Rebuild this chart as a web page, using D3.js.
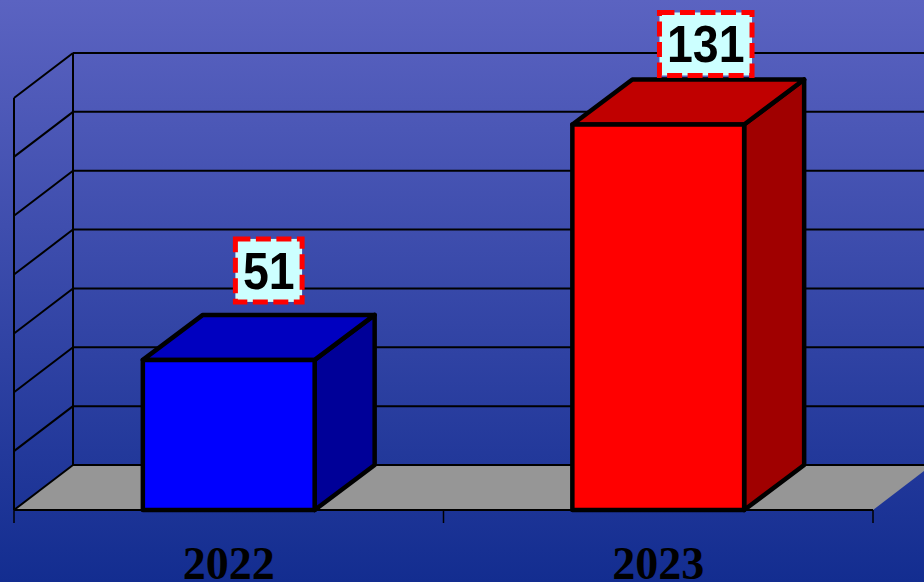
<!DOCTYPE html>
<html>
<head>
<meta charset="utf-8">
<script src="https://cdn.jsdelivr.net/npm/d3@7"></script>
<style>
html, body { margin: 0; padding: 0; background: #15308f; }
svg { display: block; }
</style>
</head>
<body>
<svg></svg>
<script>
const years = ['2022', '2023'];
const totals = [51, 131];
const barFront = ['#0000ff', '#ff0000'];
const barTop = ['#0000c0', '#c00000'];
const barSide = ['#000098', '#a00000'];
const gridTicks = [0, 20, 40, 60, 80, 100, 120, 140];

const width = 924;
const height = 582;
const depthX = 59;
const barDepthX = 60;
const depthY = 45;

const svg = d3.select('svg').attr('width', width).attr('height', height);

const grad = svg.append('defs').append('linearGradient')
	.attr('id', 'bg').attr('x1', 0).attr('y1', 0).attr('x2', 0).attr('y2', 1);
grad.append('stop').attr('offset', 0).attr('stop-color', '#5b63c1');
grad.append('stop').attr('offset', 1).attr('stop-color', '#132d90');

svg.append('rect').attr('width', width).attr('height', height).attr('fill', 'url(#bg)');

const x = d3.scaleBand().domain(years).range([14, 873]).paddingInner(0.6).paddingOuter(0.3);
const y = d3.scaleLinear().domain([0, 140]).range([510, 98]);

// floor
const xLeft = x.range()[0];
const xRight = x.range()[1];
const path = (pts) => 'M' + pts.map(p => p.join(',')).join('L') + 'Z';

svg.append('path')
	.attr('d', path([[xLeft, y(0)], [xRight, y(0)], [xRight + depthX, y(0) - depthY], [xLeft + depthX, y(0) - depthY]]))
	.attr('fill', '#969696');

// walls
const walls = svg.append('g').attr('fill', 'none').attr('stroke', '#000').attr('stroke-width', 2);
walls.selectAll('.back').data(gridTicks).enter().append('line')
	.attr('x1', xLeft + depthX).attr('x2', xRight + depthX)
	.attr('y1', d => y(d) - depthY).attr('y2', d => y(d) - depthY);
walls.selectAll('.side').data(gridTicks).enter().append('line')
	.attr('x1', xLeft).attr('x2', xLeft + depthX)
	.attr('y1', d => y(d)).attr('y2', d => y(d) - depthY);
walls.append('line').attr('x1', xLeft).attr('x2', xLeft).attr('y1', y(140)).attr('y2', y(0));
walls.append('line').attr('x1', xLeft + depthX).attr('x2', xLeft + depthX).attr('y1', y(140) - depthY).attr('y2', y(0) - depthY);

// axis
walls.append('line').attr('x1', xLeft).attr('x2', xRight).attr('y1', y(0)).attr('y2', y(0));
const boundaries = [xLeft, (xLeft + xRight) / 2, xRight];
svg.append('g').selectAll('line').data(boundaries).enter().append('line')
	.attr('x1', d => d).attr('x2', d => d)
	.attr('y1', y(0)).attr('y2', y(0) + 13)
	.attr('stroke', '#000').attr('stroke-width', 1.5);

const axis = svg.append('g').attr('transform', `translate(0,${y(0)})`)
	.call(d3.axisBottom(x).tickSize(0));
axis.select('.domain').remove();
axis.selectAll('text')
	.attr('y', 0).attr('dy', 0)
	.attr('transform', 'translate(0,69)')
	.attr('fill', '#000')
	.style('font-family', '"Liberation Serif", serif')
	.style('font-weight', 'bold')
	.style('font-size', '46px');

// bars
const bars = svg.append('g').selectAll('g').data(years).enter().append('g')
	.attr('stroke', '#000').attr('stroke-width', 4.5).attr('stroke-linejoin', 'round');

bars.append('path').attr('fill', (d, i) => barSide[i]).attr('d', (d, i) => {
	const r = x(d) + x.bandwidth();
	return path([[r, y(totals[i])], [r + barDepthX, y(totals[i]) - depthY], [r + barDepthX, y(0) - depthY], [r, y(0)]]);
});
bars.append('path').attr('fill', (d, i) => barTop[i]).attr('d', (d, i) => {
	const l = x(d), r = l + x.bandwidth(), t = y(totals[i]);
	return path([[l, t], [r, t], [r + barDepthX, t - depthY], [l + barDepthX, t - depthY]]);
});
bars.append('rect').attr('fill', (d, i) => barFront[i])
	.attr('x', d => x(d))
	.attr('y', (d, i) => y(totals[i]))
	.attr('width', x.bandwidth())
	.attr('height', (d, i) => y(0) - y(totals[i]));

// value labels
const labelDx = [40, 47.5];
const labelDy = [-89, -80];
const labels = svg.append('g').selectAll('g').data(years).enter().append('g')
	.attr('transform', (d, i) => `translate(${x(d) + x.bandwidth() / 2 + labelDx[i]},${y(totals[i]) + labelDy[i]})`);

// digits in the original are a bit narrower than the bold font here
const labelText = labels.append('text')
	.attr('text-anchor', 'middle')
	.attr('transform', 'translate(0,18) scale(0.93,1.03)')
	.style('font-family', '"Liberation Sans", Arial, sans-serif')
	.style('font-weight', 'bold')
	.style('font-size', '50px')
	.attr('fill', '#000')
	.text((d, i) => totals[i]);

labelText.each(function () {
	const w = this.getComputedTextLength() * 0.93 + 15;
	d3.select(this.parentNode).insert('rect', 'text')
		.attr('x', -w / 2).attr('y', -32).attr('width', w).attr('height', 63)
		.attr('fill', '#ccffff')
		.attr('stroke', '#ff0000')
		.attr('stroke-width', 5)
		.attr('stroke-dasharray', '15 5.5');
});
</script>
</body>
</html>
